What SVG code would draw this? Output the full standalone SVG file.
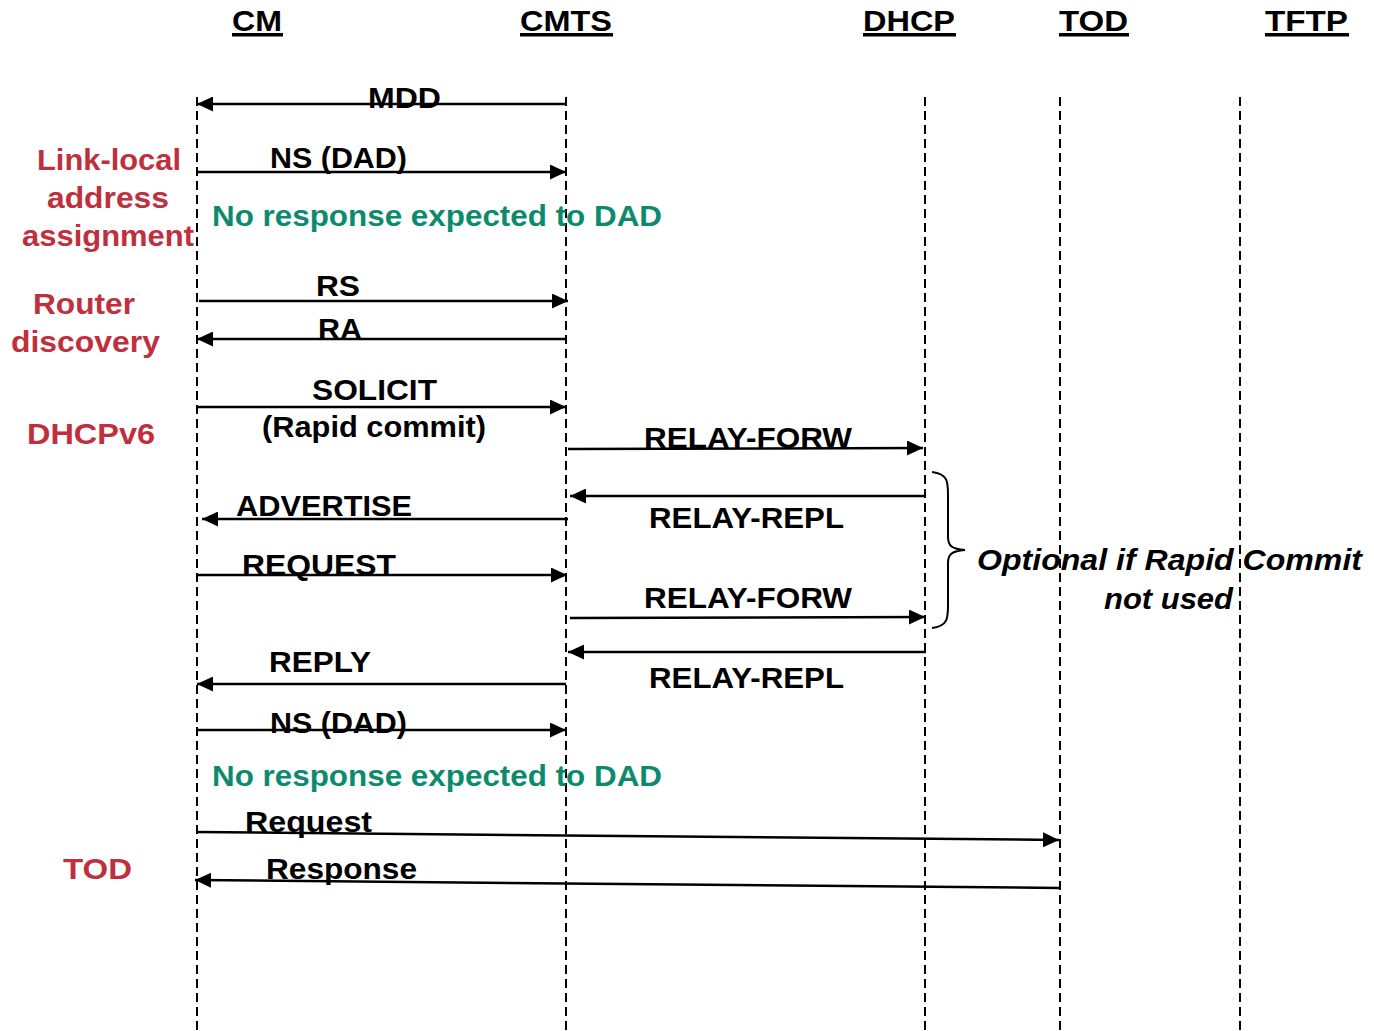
<svg xmlns="http://www.w3.org/2000/svg" width="1374" height="1031" viewBox="0 0 1374 1031">
<style>
.t{font-family:"Liberation Sans",Arial,sans-serif;font-weight:bold;font-size:30px;fill:#000}
.h{font-family:"Liberation Sans",Arial,sans-serif;font-weight:bold;font-size:30px;fill:#000}
.r{font-family:"Liberation Sans",Arial,sans-serif;font-weight:bold;font-size:30px;fill:#BF2F3D}
.g{font-family:"Liberation Sans",Arial,sans-serif;font-weight:bold;font-size:30px;fill:#0B8A6E}
.i{font-family:"Liberation Sans",Arial,sans-serif;font-weight:bold;font-style:italic;font-size:30px;fill:#000}
.life{stroke:#000;stroke-width:2;stroke-dasharray:9 5;fill:none}
.msg{stroke:#000;stroke-width:2.5;fill:none;marker-end:url(#ah)}
</style>
<defs>
<marker id="ah" markerUnits="userSpaceOnUse" markerWidth="17" markerHeight="15" refX="16" refY="7.5" orient="auto">
<path d="M0,0 L16,7.5 L0,15 Z" fill="#000"/>
</marker>
</defs>
<rect width="1374" height="1031" fill="#fff"/>
<g id="CM">
<text class="h" x="232" y="31" textLength="50" lengthAdjust="spacingAndGlyphs">CM</text>
<rect x="232" y="33" width="51" height="3.5" fill="#000"/>
<line class="life" x1="197" y1="97" x2="197" y2="1031"/>
</g>
<g id="CMTS">
<text class="h" x="520" y="31" textLength="92" lengthAdjust="spacingAndGlyphs">CMTS</text>
<rect x="520" y="33" width="93" height="3.5" fill="#000"/>
<line class="life" x1="566" y1="97" x2="566" y2="1031"/>
</g>
<g id="DHCP">
<text class="h" x="863" y="31" textLength="92" lengthAdjust="spacingAndGlyphs">DHCP</text>
<rect x="863" y="33" width="93" height="3.5" fill="#000"/>
<line class="life" x1="925" y1="97" x2="925" y2="1031"/>
</g>
<g id="TOD">
<text class="h" x="1059" y="31" textLength="69" lengthAdjust="spacingAndGlyphs">TOD</text>
<rect x="1059" y="33" width="70" height="3.5" fill="#000"/>
<line class="life" x1="1060" y1="97" x2="1060" y2="1031"/>
</g>
<g id="TFTP">
<text class="h" x="1265" y="31" textLength="83" lengthAdjust="spacingAndGlyphs">TFTP</text>
<rect x="1265" y="33" width="84" height="3.5" fill="#000"/>
<line class="life" x1="1240" y1="97" x2="1240" y2="1031"/>
</g>
<g id="phases">
<text class="r" x="37" y="170" textLength="144" lengthAdjust="spacingAndGlyphs">Link-local</text>
<text class="r" x="47" y="208" textLength="122" lengthAdjust="spacingAndGlyphs">address</text>
<text class="r" x="22" y="246" textLength="172" lengthAdjust="spacingAndGlyphs">assignment</text>
<text class="r" x="33" y="314" textLength="102" lengthAdjust="spacingAndGlyphs">Router</text>
<text class="r" x="11" y="352" textLength="149" lengthAdjust="spacingAndGlyphs">discovery</text>
<text class="r" x="27" y="444" textLength="128" lengthAdjust="spacingAndGlyphs">DHCPv6</text>
<text class="r" x="63" y="879" textLength="69" lengthAdjust="spacingAndGlyphs">TOD</text>
</g>
<g id="connectors">
<line class="msg" x1="566" y1="104" x2="197" y2="104"/>
<line class="msg" x1="197" y1="172" x2="566" y2="172"/>
<line class="msg" x1="199" y1="301" x2="568" y2="301"/>
<line class="msg" x1="565" y1="339" x2="197" y2="339"/>
<line class="msg" x1="197" y1="407" x2="566" y2="407"/>
<line class="msg" x1="568" y1="449" x2="923" y2="448"/>
<line class="msg" x1="926" y1="496" x2="570" y2="496"/>
<line class="msg" x1="568" y1="519" x2="202" y2="519"/>
<line class="msg" x1="197" y1="575" x2="567" y2="575"/>
<line class="msg" x1="570" y1="618" x2="925" y2="617"/>
<line class="msg" x1="926" y1="652" x2="568" y2="652"/>
<line class="msg" x1="566" y1="684" x2="197" y2="684"/>
<line class="msg" x1="197" y1="730" x2="566" y2="730"/>
<line class="msg" x1="197" y1="832" x2="1059" y2="840"/>
<line class="msg" x1="1060" y1="888" x2="195" y2="880"/>
<path d="M932,472 C948,474 948,482 948,495 L948,537 C948,546 952,549 965,550 C952,551 948,554 948,563 L948,605 C948,618 948,626 932,628" fill="none" stroke="#000" stroke-width="2"/>
</g>
<g id="labels">
<text class="t" x="368" y="108" textLength="73" lengthAdjust="spacingAndGlyphs">MDD</text>
<text class="t" x="270" y="168" textLength="137" lengthAdjust="spacingAndGlyphs">NS (DAD)</text>
<text class="g" x="212" y="226" textLength="450" lengthAdjust="spacingAndGlyphs">No response expected to DAD</text>
<text class="t" x="316" y="296" textLength="44" lengthAdjust="spacingAndGlyphs">RS</text>
<text class="t" x="318" y="339" textLength="44" lengthAdjust="spacingAndGlyphs">RA</text>
<text class="t" x="312" y="400" textLength="125" lengthAdjust="spacingAndGlyphs">SOLICIT</text>
<text class="t" x="262" y="437" textLength="224" lengthAdjust="spacingAndGlyphs">(Rapid commit)</text>
<text class="t" x="644" y="448" textLength="208" lengthAdjust="spacingAndGlyphs">RELAY-FORW</text>
<text class="t" x="236" y="516" textLength="176" lengthAdjust="spacingAndGlyphs">ADVERTISE</text>
<text class="t" x="649" y="528" textLength="195" lengthAdjust="spacingAndGlyphs">RELAY-REPL</text>
<text class="t" x="242" y="575" textLength="154" lengthAdjust="spacingAndGlyphs">REQUEST</text>
<text class="t" x="644" y="608" textLength="208" lengthAdjust="spacingAndGlyphs">RELAY-FORW</text>
<text class="t" x="269" y="672" textLength="102" lengthAdjust="spacingAndGlyphs">REPLY</text>
<text class="t" x="649" y="688" textLength="195" lengthAdjust="spacingAndGlyphs">RELAY-REPL</text>
<text class="t" x="270" y="733" textLength="137" lengthAdjust="spacingAndGlyphs">NS (DAD)</text>
<text class="g" x="212" y="786" textLength="450" lengthAdjust="spacingAndGlyphs">No response expected to DAD</text>
<text class="t" x="245" y="832" textLength="127" lengthAdjust="spacingAndGlyphs">Request</text>
<text class="t" x="266" y="879" textLength="151" lengthAdjust="spacingAndGlyphs">Response</text>
<text class="i" x="977" y="570" textLength="385" lengthAdjust="spacingAndGlyphs">Optional if Rapid Commit</text>
<text class="i" x="1104" y="609" textLength="129" lengthAdjust="spacingAndGlyphs">not used</text>
</g>
</svg>
